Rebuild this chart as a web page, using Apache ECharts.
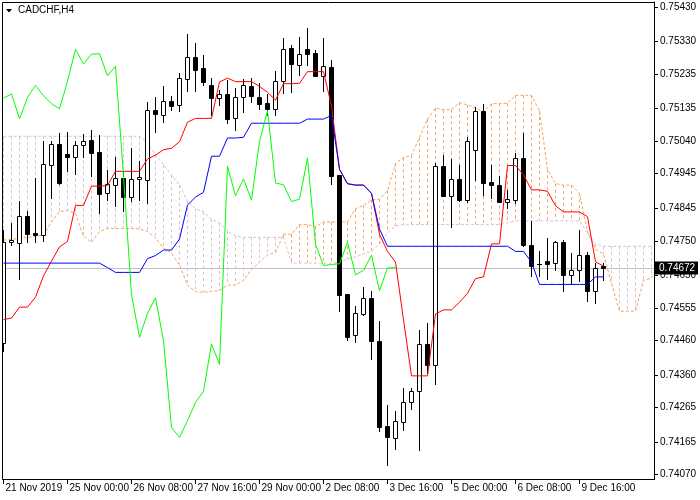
<!DOCTYPE html>
<html><head><meta charset="utf-8">
<script src="https://cdn.jsdelivr.net/npm/echarts@6/dist/echarts.min.js"></script>
<style>html,body{margin:0;padding:0;background:#fff}#c{width:700px;height:500px}</style>
</head><body><div id="c"></div>
<script>
const symbolTitle = 'CADCHF,H4';
const opens = [0.74453,0.74746,0.74743,0.74821,0.74773,0.74768,0.74971,0.75032,0.75002,0.74995,
0.75028,0.75043,0.75008,0.74888,0.74913,0.74933,0.74878,0.74929,0.74928,0.75130,
0.75117,0.75156,0.75144,0.75220,0.75284,0.75253,0.75202,0.75165,0.75177,0.75107,
0.75167,0.75200,0.75168,0.75151,0.75134,0.75214,0.75311,0.75262,0.75309,0.75296,
0.75230,0.75255,0.74942,0.74595,0.74475,0.74538,0.74584,0.74459,0.74210,0.74176,
0.74224,0.74281,0.74312,0.74450,0.74390,0.74967,0.74881,0.74930,0.74868,0.75015,
0.75128,0.74921,0.74912,0.74864,0.74870,0.74991,0.74738,0.74682,0.74690,0.74685,
0.74746,0.74651,0.74664,0.74708,0.74605,0.74676];
const highs = [0.74782,0.74802,0.74865,0.74838,0.74933,0.75039,0.75041,0.75064,0.75066,0.75041,
0.75061,0.75072,0.75057,0.74956,0.74994,0.74952,0.75020,0.74983,0.75154,0.75167,
0.75199,0.75170,0.75237,0.75352,0.75325,0.75290,0.75224,0.75189,0.75219,0.75194,
0.75222,0.75224,0.75209,0.75177,0.75245,0.75340,0.75320,0.75342,0.75369,0.75305,
0.75340,0.75277,0.74942,0.74595,0.74559,0.74615,0.74603,0.74516,0.74272,0.74256,
0.74322,0.74322,0.74491,0.74511,0.74976,0.75000,0.74988,0.74971,0.75052,0.75138,
0.75148,0.74971,0.74939,0.74899,0.75005,0.75064,0.74808,0.74720,0.74758,0.74749,
0.74752,0.74714,0.74782,0.74717,0.74685,0.74685];
const lows = [0.74429,0.74739,0.74640,0.74746,0.74746,0.74749,0.74874,0.74915,0.74954,0.74944,
0.74993,0.74939,0.74831,0.74870,0.74852,0.74838,0.74865,0.74869,0.74860,0.75066,
0.75096,0.75131,0.75127,0.75185,0.75187,0.75202,0.75117,0.75144,0.75093,0.75073,
0.75125,0.75154,0.75134,0.75115,0.75115,0.75180,0.75183,0.75233,0.75262,0.75228,
0.75185,0.74915,0.74547,0.74462,0.74455,0.74535,0.74407,0.74198,0.74098,0.74144,
0.74200,0.74262,0.74142,0.74365,0.74333,0.74881,0.74790,0.74866,0.74863,0.74928,
0.74884,0.74874,0.74863,0.74845,0.74860,0.74735,0.74648,0.74648,0.74640,0.74666,
0.74603,0.74624,0.74632,0.74576,0.74569,0.74637];
const closes = [0.74746,0.74752,0.74821,0.74771,0.74768,0.74973,0.75032,0.74919,0.74995,0.75028,
0.75039,0.75005,0.74887,0.74915,0.74933,0.74878,0.74930,0.74936,0.75130,0.75120,
0.75156,0.75143,0.75223,0.75284,0.75248,0.75211,0.75165,0.75177,0.75105,0.75167,
0.75202,0.75172,0.75149,0.75134,0.75214,0.75307,0.75264,0.75293,0.75294,0.75230,
0.75258,0.74939,0.74593,0.74469,0.74539,0.74584,0.74459,0.74207,0.74178,0.74227,
0.74280,0.74312,0.74450,0.74390,0.74967,0.74881,0.74930,0.74868,0.75039,0.75128,
0.74918,0.74913,0.74864,0.74871,0.74991,0.74739,0.74678,0.74681,0.74683,0.74746,
0.74651,0.74664,0.74708,0.74605,0.74671,0.74672];
const tenkan = [0.74521,0.74525,0.74557,0.74557,0.74586,0.74648,0.74691,0.74732,0.74748,0.74853,
0.74853,0.74909,0.74909,0.74911,0.74952,0.74952,0.74952,0.74952,0.74988,0.74999,
0.75015,0.75019,0.75038,0.75095,0.75106,0.75106,0.75106,0.75212,0.75223,0.75213,
0.75213,0.75213,0.75199,0.75182,0.75159,0.75207,0.75207,0.75208,0.75242,0.75242,
0.75242,0.75142,0.74958,0.74916,0.74912,0.74912,0.74888,0.74769,0.74719,0.74688,
0.74520,0.74357,0.74357,0.74357,0.74537,0.74549,0.74549,0.74571,0.74597,0.74640,
0.74645,0.74741,0.74741,0.74969,0.74969,0.74942,0.74898,0.74898,0.74894,0.74852,
0.74834,0.74834,0.74834,0.74820,0.74689,0.74676];
const kijun = [0.74685,0.74685,0.74685,0.74685,0.74685,0.74685,0.74685,0.74685,0.74685,0.74685,
0.74685,0.74685,0.74685,0.74672,0.74658,0.74658,0.74658,0.74658,0.74698,0.74707,
0.74723,0.74723,0.74755,0.74854,0.74877,0.74891,0.74996,0.74996,0.75049,0.75049,
0.75051,0.75092,0.75092,0.75092,0.75092,0.75092,0.75092,0.75092,0.75104,0.75104,
0.75104,0.75115,0.74958,0.74916,0.74912,0.74912,0.74888,0.74784,0.74734,0.74734,
0.74734,0.74734,0.74734,0.74734,0.74734,0.74734,0.74734,0.74734,0.74734,0.74734,
0.74734,0.74734,0.74734,0.74734,0.74719,0.74719,0.74688,0.74623,0.74623,0.74623,
0.74623,0.74623,0.74623,0.74623,0.74645,0.74645];
const chikou = [0.75165,0.75177,0.75105,0.75167,0.75202,0.75172,0.75149,0.75134,0.75214,0.75307,
0.75264,0.75293,0.75294,0.75230,0.75258,0.74939,0.74593,0.74469,0.74539,0.74584,
0.74459,0.74207,0.74178,0.74227,0.74280,0.74312,0.74450,0.74390,0.74967,0.74881,
0.74930,0.74868,0.75039,0.75128,0.74918,0.74913,0.74864,0.74871,0.74991,0.74739,
0.74678,0.74681,0.74683,0.74746,0.74651,0.74664,0.74708,0.74605,0.74671,0.74672];
const senkouA = [0.74752,0.74754,0.74757,0.74760,0.74763,0.74767,0.74805,0.74835,0.74838,0.74829,
0.74764,0.74745,0.74777,0.74786,0.74786,0.74786,0.74786,0.74784,0.74777,0.74758,
0.74729,0.74714,0.74680,0.74621,0.74602,0.74600,0.74603,0.74605,0.74621,0.74621,
0.74635,0.74666,0.74688,0.74708,0.74716,0.74769,0.74769,0.74797,0.74797,0.74791,
0.74805,0.74805,0.74805,0.74805,0.74843,0.74853,0.74869,0.74871,0.74896,0.74975,
0.74992,0.74998,0.75051,0.75104,0.75136,0.75131,0.75132,0.75152,0.75145,0.75137,
0.75125,0.75149,0.75149,0.75150,0.75173,0.75173,0.75173,0.75128,0.74958,0.74916,
0.74912,0.74912,0.74888,0.74776,0.74726,0.74711,0.74627,0.74545,0.74545,0.74545,
0.74635,0.74641];
const senkouB = [0.75054,0.75054,0.75054,0.75054,0.75054,0.75054,0.75054,0.75054,0.75054,0.75054,
0.75054,0.75054,0.75054,0.75054,0.75054,0.75054,0.75054,0.75054,0.75034,0.75000,
0.74971,0.74941,0.74912,0.74863,0.74844,0.74834,0.74812,0.74802,0.74778,0.74764,
0.74760,0.74760,0.74760,0.74760,0.74760,0.74760,0.74685,0.74685,0.74685,0.74685,
0.74685,0.74685,0.74688,0.74697,0.74703,0.74712,0.74720,0.74741,0.74773,0.74793,
0.74797,0.74797,0.74797,0.74797,0.74797,0.74797,0.74797,0.74797,0.74797,0.74797,
0.74797,0.74797,0.74797,0.74802,0.74808,0.74808,0.74808,0.74808,0.74808,0.74808,
0.74808,0.74808,0.74808,0.74772,0.74741,0.74734,0.74734,0.74734,0.74734,0.74734,
0.74734,0.74734];
const xTickIndex = [0,8,16,24,32,40,48,56,64,72];
const xTickLabels = ['21 Nov 2019','25 Nov 00:00','26 Nov 08:00','27 Nov 16:00','29 Nov 00:00',
'2 Dec 08:00','3 Dec 16:00','5 Dec 00:00','6 Dec 08:00','9 Dec 16:00'];
const yTicks = [0.74070,0.74165,0.74265,0.74360,0.74460,0.74555,0.74650,0.74750,0.74845,0.74945,
0.75040,0.75135,0.75235,0.75330,0.75430];
const lastPrice = 0.74672;

const FONT = 'Liberation Sans';
const chart = echarts.init(document.getElementById('c'));
const candleData = opens.map((o,i)=>[i,o,closes[i],lows[i],highs[i]]);
const cloudData = senkouA.map((a,i)=>[i,a,senkouB[i]]);
const toLine = arr => arr.map((v,i)=>[i,v]);
const snapX = x => Math.round(x-0.5)+0.5;

function renderCandle(params, api){
  const i=api.value(0), o=api.value(1), c=api.value(2), l=api.value(3), h=api.value(4);
  const x = snapX(api.coord([i,o])[0]);
  const yO=Math.round(api.coord([i,o])[1]), yC=Math.round(api.coord([i,c])[1]);
  const yL=Math.round(api.coord([i,l])[1]), yH=Math.round(api.coord([i,h])[1]);
  const top=Math.min(yO,yC), bot=Math.max(yO,yC);
  const ch=[{type:'line',shape:{x1:x,y1:yH,x2:x,y2:yL+1},style:{stroke:'#000',lineWidth:1}}];
  if(bot-top<1){
    ch.push({type:'line',shape:{x1:x-2.5,y1:top+0.5,x2:x+2.5,y2:top+0.5},style:{stroke:'#000',lineWidth:1}});
  } else {
    ch.push({type:'rect',shape:{x:x-2,y:top+0.5,width:4,height:bot-top},style:{fill:c>=o?'#fff':'#000',stroke:'#000',lineWidth:1}});
  }
  return {type:'group',children:ch};
}
function renderCloud(params, api){
  const i=api.value(0), a=api.value(1), b=api.value(2);
  const pa=api.coord([i,a]), pb=api.coord([i,b]);
  const x=snapX(pa[0]);
  return {type:'line',shape:{x1:x,y1:Math.min(pa[1],pb[1]),x2:x,y2:Math.max(pa[1],pb[1])},
    style:{stroke:a>=b?'#F4A460':'#D8BFD8',lineWidth:1,lineDash:[3,3]}};
}
function renderPriceLine(params, api){
  const cs=params.coordSys;
  const y=Math.round(api.coord([0,api.value(1)])[1])+0.5;
  return {type:'line',shape:{x1:cs.x,y1:y,x2:cs.x+cs.width,y2:y},style:{stroke:'#C0C0C0',lineWidth:1}};
}
function renderPriceLabel(params, api){
  const cs=params.coordSys;
  const y=Math.round(api.coord([0,api.value(1)])[1])+0.5;
  const x0=cs.x+cs.width+1;
  return {type:'group',children:[
    {type:'rect',shape:{x:x0,y:y-7,width:43,height:13},style:{fill:'#000'}},
    {type:'text',x:x0+4,y:y,style:{text:api.value(1).toFixed(5),fill:'#fff',font:'10px "Liberation Sans"',verticalAlign:'middle',align:'left'}}
  ]};
}

const option = {
  animation:false,
  backgroundColor:'#ffffff',
  grid:{left:3,right:46,top:2,bottom:21},
  xAxis:{type:'value',min:-0.0625,max:81.3125,splitLine:{show:false},
    axisLine:{show:true,onZero:false,lineStyle:{color:'#000',width:1}},
    axisTick:{show:true,customValues:xTickIndex,length:5,lineStyle:{color:'#000'}},
    axisLabel:{customValues:xTickIndex,formatter:v=>{const k=xTickIndex.indexOf(Math.round(v));return k>=0?xTickLabels[k]:'';},
      align:'left',margin:4,padding:[0,0,0,2],color:'#000',fontFamily:FONT,fontSize:10}},
  yAxis:{type:'value',position:'right',min:0.740570,max:0.754446,splitLine:{show:false},
    axisLine:{show:true,onZero:false,lineStyle:{color:'#000',width:1}},
    axisTick:{show:true,customValues:yTicks,length:4,lineStyle:{color:'#000'}},
    axisLabel:{customValues:yTicks,formatter:v=>v.toFixed(5),margin:6,color:'#000',fontFamily:FONT,fontSize:10}},
  graphic:[
    {type:'rect',silent:true,z:100,shape:{x:2.5,y:2.5,width:652,height:477},style:{fill:null,stroke:'#000',lineWidth:1}},
    {type:'polygon',silent:true,z:100,shape:{points:[[6,9],[12,9],[9,12.5]]},style:{fill:'#000'}},
    {type:'text',silent:true,z:100,x:18,y:5,style:{text:symbolTitle,fill:'#000',font:'10px "Liberation Sans"'}}
  ],
  series:[
    {type:'custom',name:'priceLine',renderItem:renderPriceLine,data:[[0,lastPrice]],encode:{x:0,y:1},clip:true,z:1,silent:true},
    {type:'custom',name:'cloud',renderItem:renderCloud,data:cloudData,encode:{x:0,y:[1,2]},clip:true,z:2,silent:true},
    {type:'line',name:'SenkouA',data:toLine(senkouA),symbol:'none',showSymbol:false,clip:true,z:3,silent:true,
      lineStyle:{color:'#F4A460',width:1,type:[3,2]}},
    {type:'line',name:'SenkouB',data:toLine(senkouB),symbol:'none',showSymbol:false,clip:true,z:3,silent:true,
      lineStyle:{color:'#D8BFD8',width:1,type:[3,2]}},
    {type:'custom',name:'candles',renderItem:renderCandle,data:candleData,encode:{x:0,y:[1,2,3,4]},clip:true,z:4,silent:true},
    {type:'line',name:'Tenkan',data:toLine(tenkan),symbol:'none',showSymbol:false,clip:true,z:5,silent:true,lineStyle:{color:'#FF0000',width:1}},
    {type:'line',name:'Kijun',data:toLine(kijun),symbol:'none',showSymbol:false,clip:true,z:5,silent:true,lineStyle:{color:'#0000FF',width:1}},
    {type:'line',name:'Chikou',data:toLine(chikou),symbol:'none',showSymbol:false,clip:true,z:5,silent:true,lineStyle:{color:'#00FF00',width:1}},
    {type:'custom',name:'priceLabel',renderItem:renderPriceLabel,data:[[0,lastPrice]],encode:{x:0,y:1},clip:false,z:10,silent:true}
  ]
};
chart.setOption(option);
</script></body></html>
